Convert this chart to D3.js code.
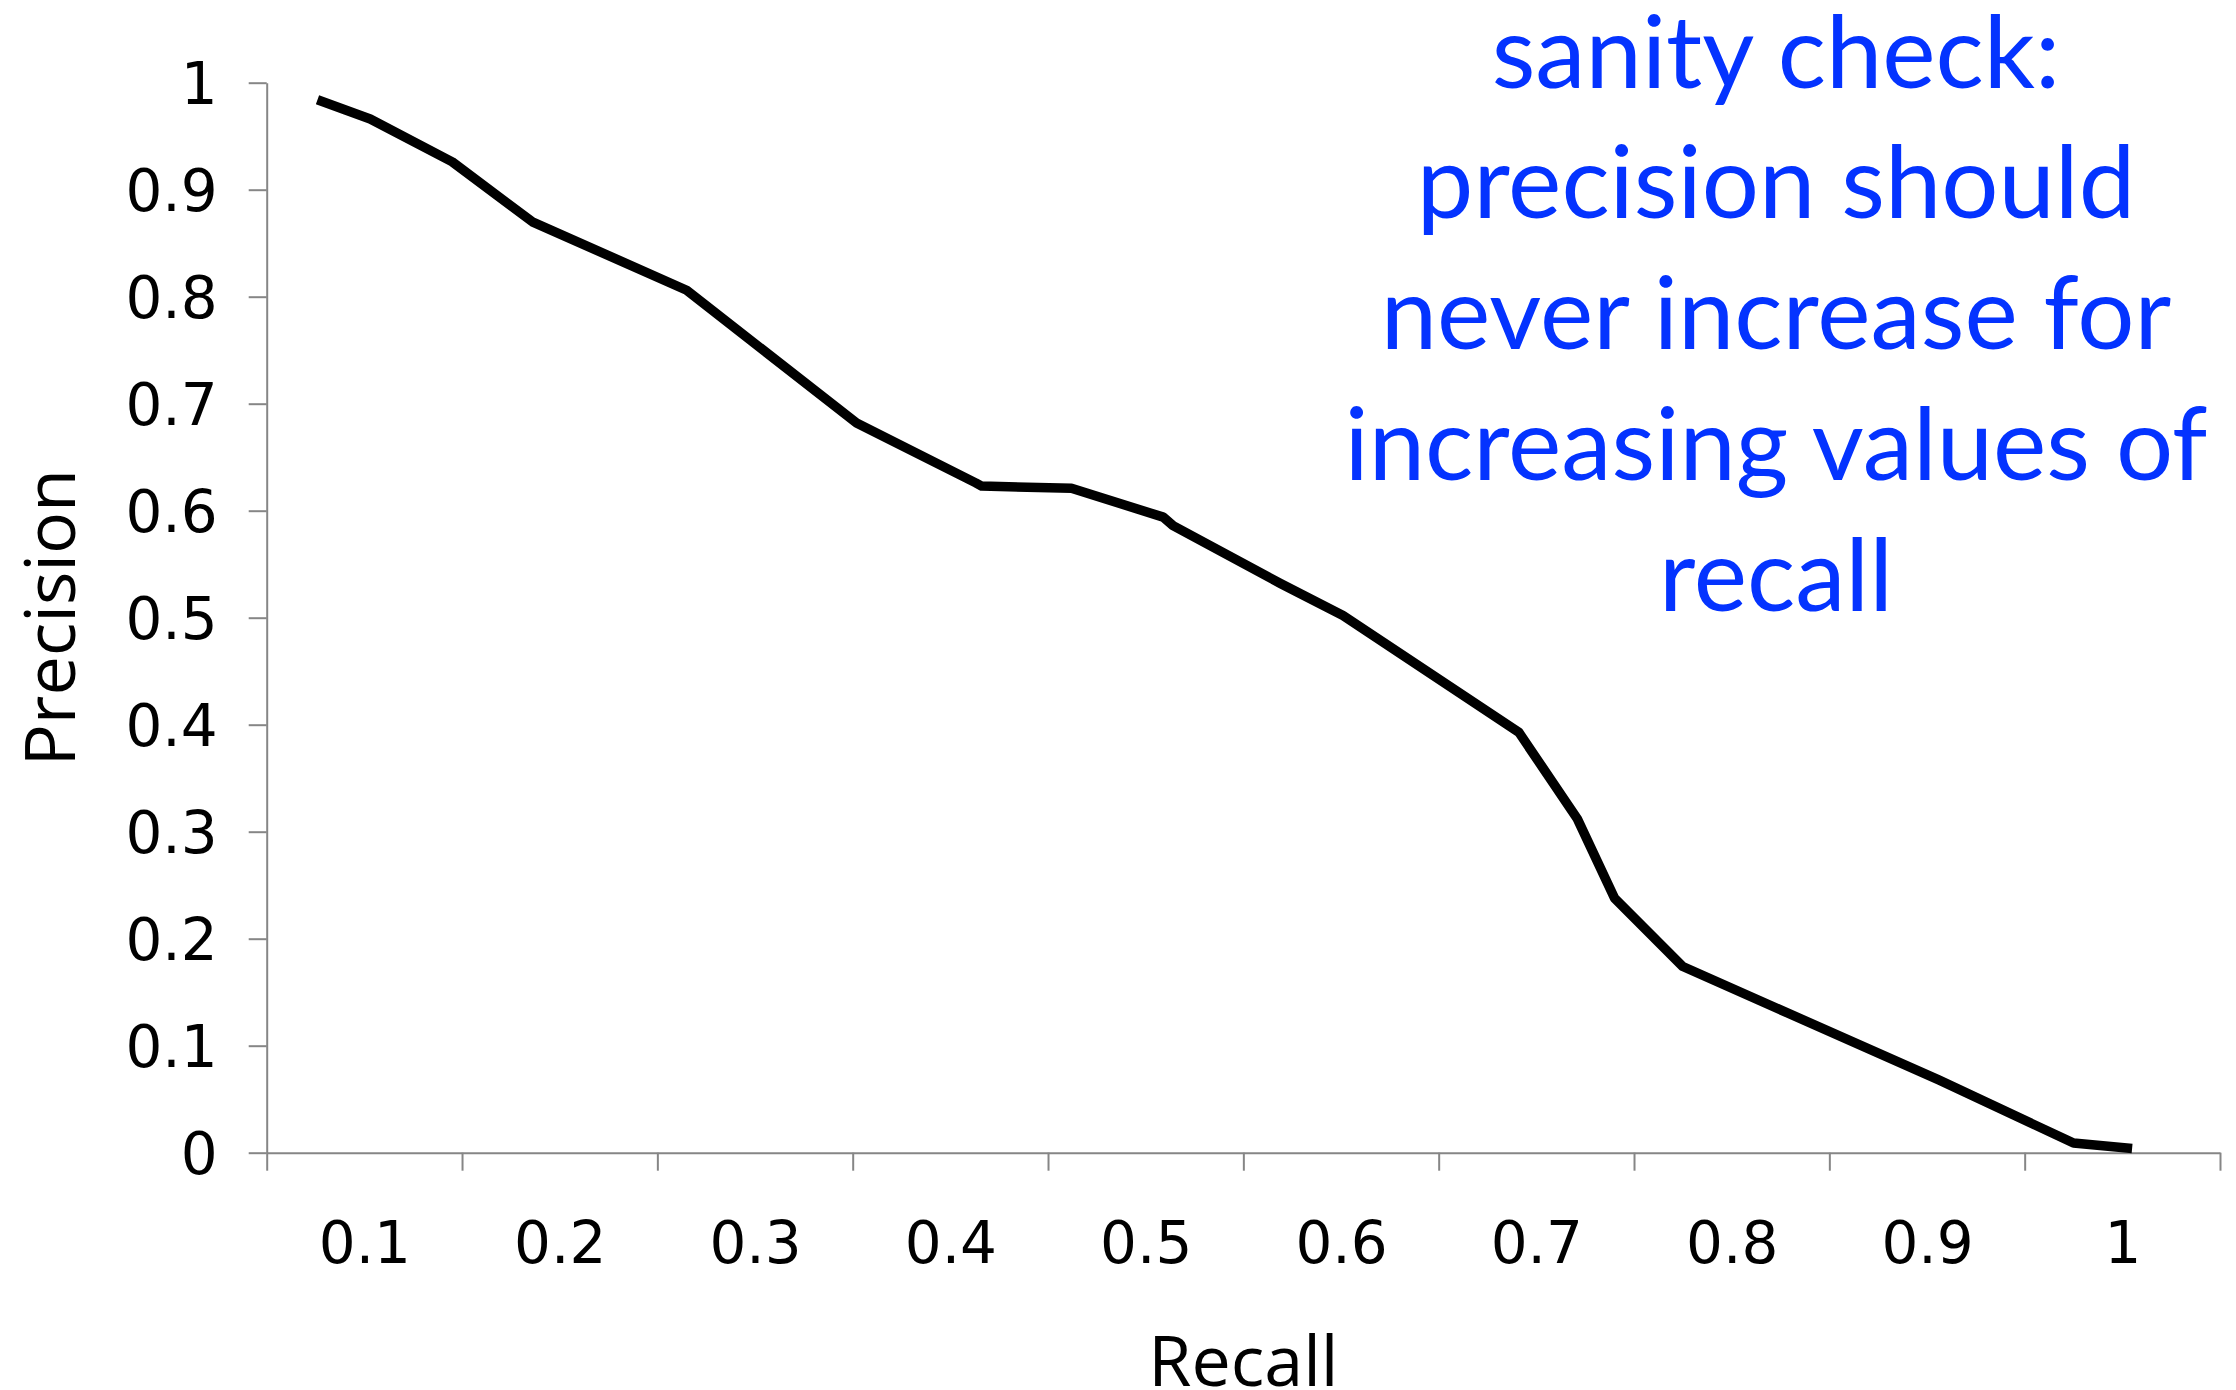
<!DOCTYPE html>
<html>
<head>
<meta charset="utf-8">
<script src="https://cdn.jsdelivr.net/npm/d3@7"></script>
<style>
  html, body { margin: 0; padding: 0; background: #ffffff; }
  svg { display: block; }
</style>
</head>
<body>
<svg id="chart" width="2236" height="1390"></svg>
<script>
// ---- data ----
const recall    = [0.076, 0.103, 0.145, 0.186, 0.265, 0.352, 0.413, 0.416, 0.462, 0.509, 0.514, 0.569, 0.601, 0.691, 0.721, 0.740, 0.775, 0.906, 0.975, 1.005];
const precision = [0.984, 0.966, 0.926, 0.870, 0.806, 0.682, 0.626, 0.623, 0.621, 0.594, 0.586, 0.532, 0.502, 0.393, 0.312, 0.238, 0.174, 0.068, 0.009, 0.004];
const xTickMarks  = [0.05, 0.15, 0.25, 0.35, 0.45, 0.55, 0.65, 0.75, 0.85, 0.95, 1.05];
const xTickValues = [0.1, 0.2, 0.3, 0.4, 0.5, 0.6, 0.7, 0.8, 0.9, 1.0];
const xTickLabels = ["0.1", "0.2", "0.3", "0.4", "0.5", "0.6", "0.7", "0.8", "0.9", "1"];
const yTickValues = [0, 0.1, 0.2, 0.3, 0.4, 0.5, 0.6, 0.7, 0.8, 0.9, 1.0];
const yTickLabels = ["0", "0.1", "0.2", "0.3", "0.4", "0.5", "0.6", "0.7", "0.8", "0.9", "1"];
const xTitle = "Recall";
const yTitle = "Precision";
const noteLines = ["sanity check:", "precision should", "never increase for", "increasing values of", "recall"];

// ---- layout ----
const svg = d3.select("#chart");
const x = d3.scaleLinear().domain([0.05, 1.05]).range([266.7, 2220]);
const y = d3.scaleLinear().domain([0, 1]).range([1152.7, 82.7]);
const axisColor = "#868686";
const tickFont = "'DejaVu Sans', Verdana, sans-serif";
const titleFont = "'Open Sans', 'Lucida Grande', sans-serif";

// y axis
const yAxis = svg.append("g")
  .attr("transform", `translate(${x(0.05)},0)`)
  .call(d3.axisLeft(y).tickValues(yTickValues).tickSize(18).tickSizeOuter(0)
        .tickPadding(31).tickFormat((d, i) => yTickLabels[i]));
yAxis.select(".domain").attr("stroke", axisColor).attr("stroke-width", 2);
yAxis.selectAll(".tick line").attr("stroke", axisColor).attr("stroke-width", 2);
yAxis.selectAll(".tick text")
  .attr("font-family", tickFont).attr("font-size", 58).attr("fill", "#000")
  .attr("dy", "0.36em");

// x axis tick marks
const xAxis = svg.append("g")
  .attr("transform", `translate(0,${y(0)})`)
  .call(d3.axisBottom(x).tickValues(xTickMarks).tickSize(18).tickSizeOuter(0).tickFormat(""));
xAxis.select(".domain").attr("stroke", axisColor).attr("stroke-width", 2);
xAxis.selectAll(".tick line").attr("stroke", axisColor).attr("stroke-width", 2);

// x labels (centered between tick marks)
const xLab = svg.append("g")
  .attr("transform", `translate(0,${y(0)})`)
  .call(d3.axisBottom(x).tickValues(xTickValues).tickSize(0).tickPadding(0)
        .tickFormat((d, i) => xTickLabels[i]));
xLab.select(".domain").remove();
xLab.selectAll(".tick text")
  .attr("font-family", tickFont).attr("font-size", 58).attr("fill", "#000")
  .attr("dy", null).attr("y", 110);

// line
const pts = recall.map((r, i) => [r, precision[i]]);
svg.append("path")
  .datum(pts)
  .attr("fill", "none")
  .attr("stroke", "#000")
  .attr("stroke-width", 9.5)
  .attr("stroke-linejoin", "round")
  .attr("stroke-linecap", "butt")
  .attr("d", d3.line().x(d => x(d[0])).y(d => y(d[1])));

// axis titles
svg.append("text")
  .attr("x", (x(0.05) + x(1.05)) / 2).attr("y", 1386)
  .attr("text-anchor", "middle")
  .attr("font-family", titleFont).attr("font-size", 70).attr("fill", "#000")
  .text(xTitle);
svg.append("text")
  .attr("transform", `translate(75,${(y(0) + y(1)) / 2}) rotate(-90)`)
  .attr("text-anchor", "middle")
  .attr("font-family", titleFont).attr("font-size", 70).attr("fill", "#000")
  .text(yTitle);

// annotation
const note = svg.append("g").attr("fill", "#0433ff")
  .attr("font-family", "'Gill Sans', Lato, sans-serif");
const baselines = [87.8, 218.4, 349, 479.6, 611];
const nt = note.selectAll("text").data(noteLines).join("text")
  .attr("x", 1776).attr("y", (d, i) => baselines[i])
  .attr("text-anchor", "middle").attr("font-size", 100)
  .text(d => d);
// fit the longest line to the reference width
const longest = d3.max(nt.nodes(), n => n.getComputedTextLength());
nt.attr("font-size", 100 * 863 / longest);
</script>
</body>
</html>
